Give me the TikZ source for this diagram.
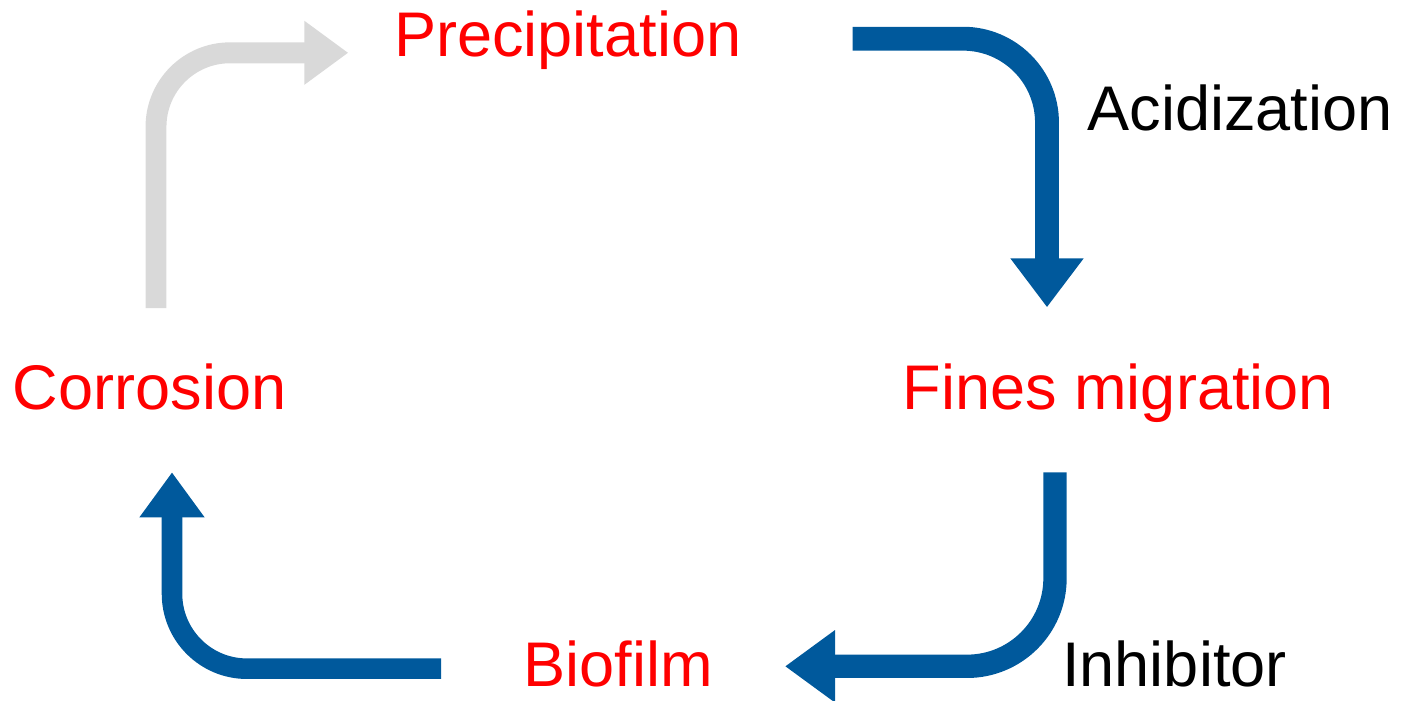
\documentclass[tikz,border=0pt]{standalone}
\usepackage{fontspec}
\setmainfont{Liberation Sans}
\usetikzlibrary{arrows.meta}
\definecolor{flowblue}{RGB}{0,89,156}
\definecolor{flowgray}{RGB}{217,217,217}

\begin{document}
\begin{tikzpicture}[
            x=0.02cm, y=-0.02cm,
            every node/.style={inner sep=0pt, anchor=base, font=\fontsize{35.9}{40}\selectfont},
            issue/.style={text=red},
            agent/.style={text=black},
            flow/.style={draw=flowblue, fill=none}
          ]
        \useasboundingbox (0,0) rectangle (1405,700);

        \node[issue] (precip) at (567.7,56) {Precipitation};
        \node[agent] (acid) at (1240,130) {Acidization};
        \node[issue] (fines) at (1118.3,409.3) {Fines migration};
        \node[issue] (corr) at (149.5,409.3) {Corrosion};
        \node[issue] (biofilm) at (618,686.5) {Biofilm};
        \node[agent] (inhib) at (1174.5,686) {Inhibitor};

        \coordinate (corrout) at (156,308);
        \coordinate (precipin) at (348.3,52.8);
        \coordinate (precipout) at (852.7,38.7);
        \coordinate (finesin) at (1047,307.3);
        \coordinate (finesout) at (1055,472.3);
        \coordinate (biofilmin) at (785,666.3);
        \coordinate (biofilmout) at (441,668.7);
        \coordinate (corrin) at (172,472.3);

        \draw[draw=flowgray, line width=11.9pt, rounded corners=1.48cm,
              -{Triangle[length=0.88cm, width=1.22cm]}] (corrout) |- (precipin);
        \draw[flow, line width=13.6pt, rounded corners=1.68cm,
              -{Triangle[length=0.98cm, width=1.4cm]}] (precipout) -| (finesin);
        \draw[flow, line width=13.3pt, rounded corners=1.76cm,
              -{Triangle[length=1.0cm, width=1.38cm]}] (finesout) |- (biofilmin);
        \draw[flow, line width=11.7pt, rounded corners=1.5cm,
              -{Triangle[length=0.9cm, width=1.24cm]}] (biofilmout) -| (corrin);

        \end{tikzpicture}
\end{document}
